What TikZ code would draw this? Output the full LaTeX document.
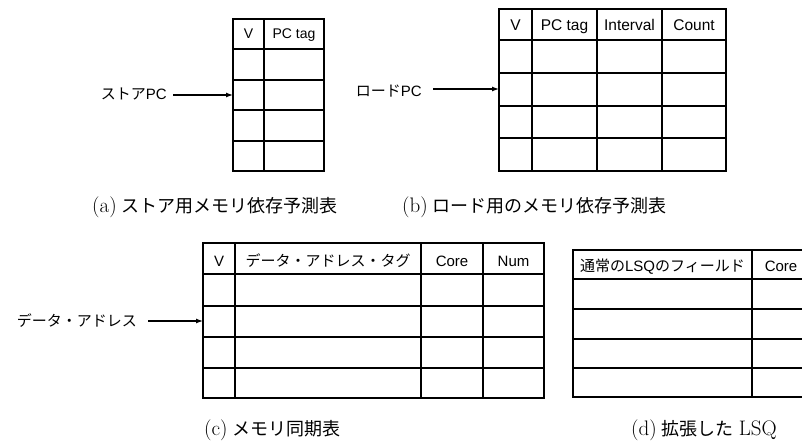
\documentclass[tikz,border=0pt]{standalone}
\usepackage{fontspec}
\newfontfamily\cjk{Noto Sans CJK JP}
\newfontfamily\hv{Liberation Sans}
\newcommand{\capcjk}[1]{{\cjk\fontsize{18}{22}\selectfont #1}}
\usetikzlibrary{arrows.meta}
\tikzset{
  grid/.style={line width=1.6pt, line cap=rect},
  cellA/.style={font=\hv\fontsize{14}{16}\selectfont, inner sep=0pt, anchor=base},
  cellB/.style={font=\hv\fontsize{15.5}{17}\selectfont, inner sep=0pt, anchor=base},
  cellC/.style={font=\hv\fontsize{15}{17}\selectfont, inner sep=0pt, anchor=base},
  lbl/.style={font=\hv\fontsize{15}{17}\selectfont, inner sep=0pt},
  ptr/.style={line width=1.2pt, -{Latex[length=7pt,width=5pt]}},
  captext/.style={font=\fontsize{21}{24}\selectfont, inner sep=0pt, anchor=base west},
}
\begin{document}
\begin{tikzpicture}[x=1pt,y=-1pt]
\clip (0,0) rectangle (802,443);
\fill[white] (0,0) rectangle (802,443);

% ---------- (a) store table ----------
\draw[grid] (233,19) rectangle (324,171);
\foreach \yy in {49,80,110,141} \draw[grid] (233,\yy) -- (324,\yy);
\draw[grid] (264,19) -- (264,171);
\node[cellA] (aV) at (248.5,39) {V};
\node[cellA] (aT) at (294,39) {PC tag};
\node[lbl, anchor=base east] (aL) at (167,100) {{\cjk ストア}PC};
\coordinate (aIn) at (233,95);
\draw[ptr] ([xshift=6pt]aL.east |- aIn) -- (aIn);
\node[captext] (aC) at (92,213) {(a)\hspace{5pt}\capcjk{ストア用メモリ依存予測表}};

% ---------- (b) load table ----------
\draw[grid] (499,9) rectangle (726,171);
\foreach \yy in {40,73,106,138} \draw[grid] (499,\yy) -- (726,\yy);
\foreach \xx in {532,597,662} \draw[grid] (\xx,9) -- (\xx,171);
\node[cellB] (bV) at (515.5,31) {V};
\node[cellB] (bT) at (564.5,31) {PC tag};
\node[cellB] (bI) at (629.5,31) {Interval};
\node[cellB] (bN) at (694,31) {Count};
\node[lbl, anchor=base east] (bL) at (422,96.5) {{\cjk ロード}PC};
\coordinate (bIn) at (499,89);
\draw[ptr] ([xshift=11pt]bL.east |- bIn) -- (bIn);
\node[captext] (bC) at (402,213) {(b)\hspace{5pt}\capcjk{ロード用のメモリ依存予測表}};

% ---------- (c) memory sync table ----------
\draw[grid] (203,243) rectangle (544,398);
\foreach \yy in {274,306,337,368} \draw[grid] (203,\yy) -- (544,\yy);
\foreach \xx in {235,421,483} \draw[grid] (\xx,243) -- (\xx,398);
\node[cellC] (cV) at (219,266) {V};
\node[cellC] (cT) at (328,266) {\cjk データ・アドレス・タグ};
\node[cellC] (cCo) at (452,266) {Core};
\node[cellC] (cN) at (513.5,266) {Num};
\node[lbl, anchor=east] (cL) at (137,321) {\cjk データ・アドレス};
\coordinate (cIn) at (203,321);
\draw[ptr] ([xshift=11pt]cL.east |- cIn) -- (cIn);
\node[captext] (cC) at (204,435) {(c)\hspace{5pt}\capcjk{メモリ同期表}};

% ---------- (d) extended LSQ ----------
\draw[grid] (812,250) -- (573,250) -- (573,397) -- (812,397);
\foreach \yy in {279,309,339,368} \draw[grid] (573,\yy) -- (812,\yy);
\draw[grid] (752,250) -- (752,397);
\node[cellC] (dF) at (662.5,271.5) {{\cjk 通常の}LSQ{\cjk のフィールド}};
\node[cellC] (dCo) at (781,271.5) {Core};
\node[captext] (dC) at (631,435) {(d)\hspace{5pt}\capcjk{拡張した}\hspace{5pt}LSQ};
\end{tikzpicture}
\end{document}
